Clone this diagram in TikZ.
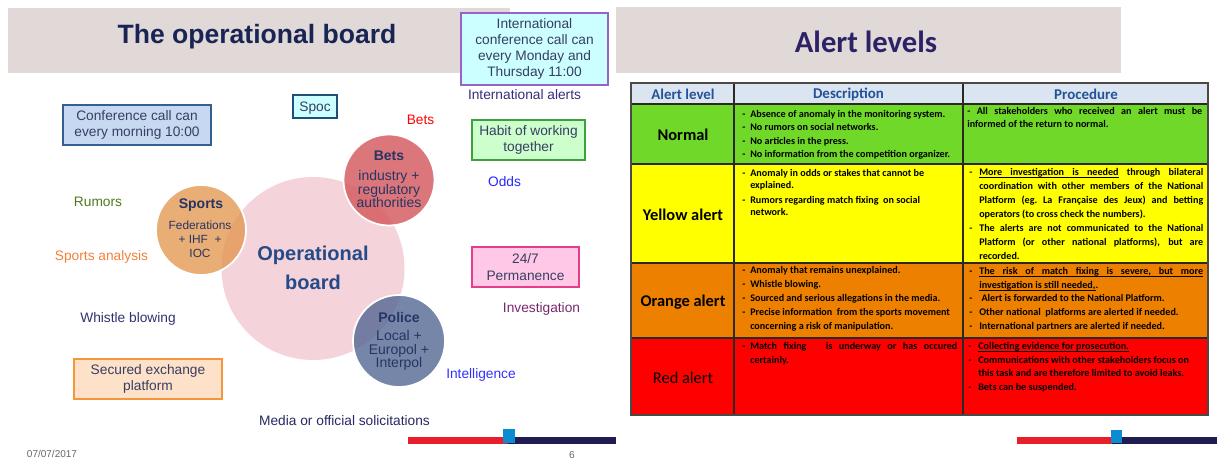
\documentclass[tikz,border=0pt]{standalone}
\usepackage{fontspec}
\setmainfont{Liberation Sans}
\newfontfamily\calfont{Carlito}
% font size helper: size and baselineskip in pt
\newcommand\fs[2]{\fontsize{#1pt}{#2pt}\selectfont}
% bullet dashes for the two text columns of the table
\newcommand\dsh{\makebox[6pt][l]{-}}
\newcommand\dshp{\makebox[7.5pt][l]{-}}
% a justified line of given width
\newcommand\jl[2]{\makebox[#1][s]{#2}}
% underlined word and underlined (stretchable) space
\newcommand\uw[1]{\leavevmode\setbox0\hbox{#1}\rlap{\vrule height -1.1pt depth 1.6pt width\wd0}\box0\relax}
\newcommand\us{\leavevmode\leaders\hrule height -1.1pt depth 1.6pt\hskip\fontdimen2\font plus\fontdimen3\font minus\fontdimen4\font\relax}

\definecolor{band}{RGB}{225,217,215}
\definecolor{titleL}{RGB}{24,36,84}
\definecolor{titleR}{RGB}{44,34,102}
\definecolor{boxtext}{RGB}{55,62,98}
\definecolor{pinkc}{RGB}{244,211,219}
\definecolor{sportc}{RGB}{228,150,80}
\definecolor{betsc}{RGB}{210,82,86}
\definecolor{policec}{RGB}{80,100,145}
\definecolor{circtext}{RGB}{40,52,100}
\definecolor{obtext}{RGB}{36,74,135}
\definecolor{hdrfill}{RGB}{219,229,241}
\definecolor{hdrtext}{RGB}{36,82,150}
\definecolor{greenrow}{RGB}{112,216,40}
\definecolor{yellowrow}{RGB}{255,255,0}
\definecolor{orangerow}{RGB}{238,128,0}
\definecolor{redrow}{RGB}{255,0,0}
\definecolor{gridc}{RGB}{45,40,35}
\definecolor{barred}{RGB}{232,30,42}
\definecolor{barnavy}{RGB}{32,28,82}
\definecolor{barblue}{RGB}{10,140,210}

\begin{document}
\begin{tikzpicture}[x=0.75pt,y=-0.75pt,
  lbl/.style={inner sep=0, align=center, font=\fs{10.3}{12.4}},
  infobox/.style={draw, line width=1.1pt, inner sep=0, align=center,
    font=\fs{10.3}{12.2}, text=boxtext},
  bubble/.style={circle, inner sep=0, draw=white, line width=1.3pt, fill opacity=0.78},
  bhead/.style={inner sep=0, font=\bfseries\fs{10.5}{12}, text=circtext},
  bbody/.style={inner sep=0, align=center, font=\fs{10.5}{10.1}, text=circtext},
  slidetitle/.style={inner sep=0},
  hdr/.style={inner sep=0, font=\calfont\bfseries\fs{11.2}{13}, text=hdrtext},
  level/.style={inner sep=0, font=\calfont\bfseries\fs{12.3}{14}},
  cell/.style={inner sep=0, align=left, anchor=north west},
  small/.style={inner sep=0, font=\fs{7.5}{9}, text=black!60}
]
\useasboundingbox (0,0) rectangle (1217,461);
\fill[white] (0,0) rectangle (1217,461);

% ---------------- operational board ----------------
\fill[band] (8,8) rectangle (510,73);
\node[slidetitle, font=\bfseries\fs{19.9}{24}, text=titleL] (tL) at (257,37) {The operational board};

\node[infobox, fill={rgb,255:red,204;green,255;blue,255}, draw={rgb,255:red,150;green,100;blue,200},
  minimum width=110.25pt, minimum height=54pt] (intl) at (534.5,49)
  {International\\conference call can\\every Monday and\\Thursday 11:00};
\node[lbl, text={rgb,255:red,62;green,42;blue,122}] (intlal) at (524.5,95) {International alerts};

\node[infobox, fill={rgb,255:red,204;green,255;blue,255}, draw={rgb,255:red,31;green,78;blue,121},
  minimum width=33pt, minimum height=17.25pt, text depth=0pt] (spoc) at (315,106.5) {Spoc};

\node[infobox, fill={rgb,255:red,198;green,217;blue,241}, draw={rgb,255:red,54;green,95;blue,145},
  minimum width=111pt, minimum height=30pt] (conf) at (137,125)
  {Conference call can\\every morning 10:00};

\node[lbl, text=red] (betsl) at (420.5,120) {Bets};

\node[infobox, fill={rgb,255:red,204;green,255;blue,204}, draw={rgb,255:red,60;green,160;blue,60},
  minimum width=84.75pt, minimum height=30pt] (habit) at (528.5,140)
  {Habit of working\\together};

\node[lbl, text={rgb,255:red,40;green,40;blue,255}] (odds) at (504.5,182) {Odds};
\node[lbl, text={rgb,255:red,80;green,120;blue,30}] (rumors) at (98,202) {Rumors};
\node[lbl, text={rgb,255:red,245;green,128;blue,55}] (spana) at (101.5,257) {Sports analysis};

\node[infobox, fill={rgb,255:red,255;green,200;blue,230}, draw={rgb,255:red,230;green,60;blue,140},
  minimum width=80.25pt, minimum height=30pt] (perm) at (525.5,267)
  {24/7\\Permanence};

\node[lbl, text={rgb,255:red,120;green,40;blue,110}] (invest) at (541.5,309) {Investigation};
\node[lbl, text={rgb,255:red,50;green,50;blue,110}] (whistle) at (128,319) {Whistle blowing};
\node[lbl, text={rgb,255:red,50;green,50;blue,255}] (intel) at (481,375) {Intelligence};

\node[infobox, fill={rgb,255:red,253;green,225;blue,200}, draw={rgb,255:red,245;green,150;blue,60},
  minimum width=111pt, minimum height=30pt] (secured) at (148,379)
  {Secured exchange\\platform};

\node[lbl, text={rgb,255:red,40;green,40;blue,100}] (media) at (344.5,421) {Media or official solicitations};

% circles
\node[circle, inner sep=0, fill=pinkc, minimum size=137.25pt] (ob) at (313,268.5) {};
\node[bubble, fill=sportc, minimum size=67.5pt] (sports) at (201,230) {};
\node[bubble, fill=betsc, minimum size=68.25pt] (bets) at (389,180) {};
\node[bubble, fill=policec, minimum size=69pt] (police) at (399,341) {};

\node[inner sep=0, align=center, font=\bfseries\fs{15}{21.75}, text=obtext] (obt) at (313,267.5) {Operational\\board};

\node[bhead] (betsh) at (389,156) {Bets};
\node[bbody] (betsb) at (389,189) {industry +\\regulatory\\authorities};
\node[bhead] (sportsh) at (201,205) {Sports};
\node[bbody, font=\fs{8.9}{10.5}] (sportsb) at (200,239) {Federations\\+ IHF \ +\\IOC};
\node[bhead] (policeh) at (399,317) {Police};
\node[bbody] (policeb) at (399,350.5) {Local +\\Europol +\\Interpol};

% footer
\fill[barred] (408,437) rectangle (508,444);
\fill[barnavy] (508,437) rectangle (616,444);
\fill[barblue] (503,429) rectangle (515,443);
\node[small] (date) at (52,454) {07/07/2017};
\node[small] (pg) at (572,455) {6};

% ---------------- alert levels ----------------
\fill[band] (616,7) rectangle (1121,73);
\node[slidetitle, font=\calfont\bfseries\fs{23}{27}, text=titleR] (tR) at (866,42) {Alert levels};

% row fills
\fill[hdrfill] (631,83) rectangle (1208,104);
\fill[greenrow] (631,104) rectangle (1208,164);
\fill[yellowrow] (631,164) rectangle (1208,263);
\fill[orangerow] (631,263) rectangle (1208,338);
\fill[redrow] (631,338) rectangle (1208,415);
% grid
\draw[gridc, line width=0.8pt] (631,104) -- (1208,104) (631,164) -- (1208,164)
  (631,263) -- (1208,263) (631,338) -- (1208,338)
  (734,83) -- (734,415) (963,83) -- (963,415);
\draw[gridc!85, line width=1.4pt] (631,83) rectangle (1208,415);

\node[hdr] (h1) at (683,94) {Alert level};
\node[hdr] (h2) at (848.5,94) {Description};
\node[hdr] (h3) at (1086,94) {Procedure};

\node[level] (lvN) at (683,135) {Normal};
\node[level] (lvY) at (683,215) {Yellow alert};
\node[level] (lvO) at (683,302) {Orange alert};
\node[level, font=\calfont\fs{12.3}{14}] (lvR) at (683,378) {Red alert};

% descriptions
\node[cell, font=\calfont\bfseries\fs{7.6}{10}] (dN) at (742,110) {%
\dsh Absence of anomaly in the monitoring system.\\
\dsh No rumors on social networks.\\
\dsh No articles in the press.\\
\dsh No information from the competition organizer.};

\node[cell, font=\calfont\bfseries\fs{7.6}{9.3}] (dY) at (742,169) {%
\dsh Anomaly in odds or stakes that cannot be\\
\hspace*{6pt}explained.\\[1.8pt]
\dsh Rumors regarding match fixing \ on social\\
\hspace*{6pt}network.};

\node[cell, font=\calfont\bfseries\fs{7.6}{10.5}] (dO) at (742,266) {%
\dsh Anomaly that remains unexplained.\\
\dsh Whistle blowing.\\
\dsh Sourced and serious allegations in the media.\\
\dsh Precise information \ from the sports movement\\
\hspace*{6pt}concerning a risk of manipulation.};

\node[cell, font=\calfont\bfseries\fs{7.6}{10.5}] (dR) at (742,342) {%
\dsh\jl{155.25pt}{Match fixing \ \ is underway or has occured}\\
\hspace*{6pt}certainly.};

% procedures
\node[cell, font=\calfont\bfseries\fs{7.6}{9.75}] (pN) at (967,107) {%
\jl{176.25pt}{- All stakeholders who received an alert must be}\\
informed of the return to normal.};

\node[cell, font=\calfont\bfseries\fs{7.6}{10.5}] (pY) at (969,168) {%
\dshp\jl{168pt}{\uw{More}\us\uw{investigation}\us\uw{is}\us\uw{needed} through bilateral}\\
\hspace*{7.5pt}\jl{168pt}{coordination with other members of the National}\\
\hspace*{7.5pt}\jl{168pt}{Platform (eg.\ La Française des Jeux) and betting}\\
\hspace*{7.5pt}operators (to cross check the numbers).\\
\dshp\jl{168pt}{The alerts are not communicated to the National}\\
\hspace*{7.5pt}\jl{168pt}{Platform (or other national platforms), but are}\\
\hspace*{7.5pt}recorded.};

\node[cell, font=\calfont\bfseries\fs{7.6}{10.3}] (pO) at (969,267) {%
\dshp\jl{168pt}{\uw{The}\us\uw{risk}\us\uw{of}\us\uw{match}\us\uw{fixing}\us\uw{is}\us\uw{severe,}\us\uw{but}\us\uw{more}}\\
\hspace*{7.5pt}\uw{investigation}\us\uw{is}\us\uw{still}\us\uw{needed,}.\\
\dshp\ Alert is forwarded to the National Platform.\\
\dshp Other national \ platforms are alerted if needed.\\
\dshp International partners are alerted if needed.};

\node[cell, font=\calfont\bfseries\fs{7.6}{10.3}] (pR) at (968,342) {%
\dshp\uw{Collecting}\us\uw{evidence}\us\uw{for}\us\uw{prosecution.}\\
\dshp Communications with other stakeholders focus on\\
\hspace*{7.5pt}this task and are therefore limited to avoid leaks.\\
\dshp Bets can be suspended.};

% footer
\fill[barnavy] (600,437) rectangle (616,444);
\fill[barred] (1017,437) rectangle (1112,444);
\fill[barnavy] (1112,437) rectangle (1217,444);
\fill[barblue] (1111,430) rectangle (1122,443);
\end{tikzpicture}
\end{document}
